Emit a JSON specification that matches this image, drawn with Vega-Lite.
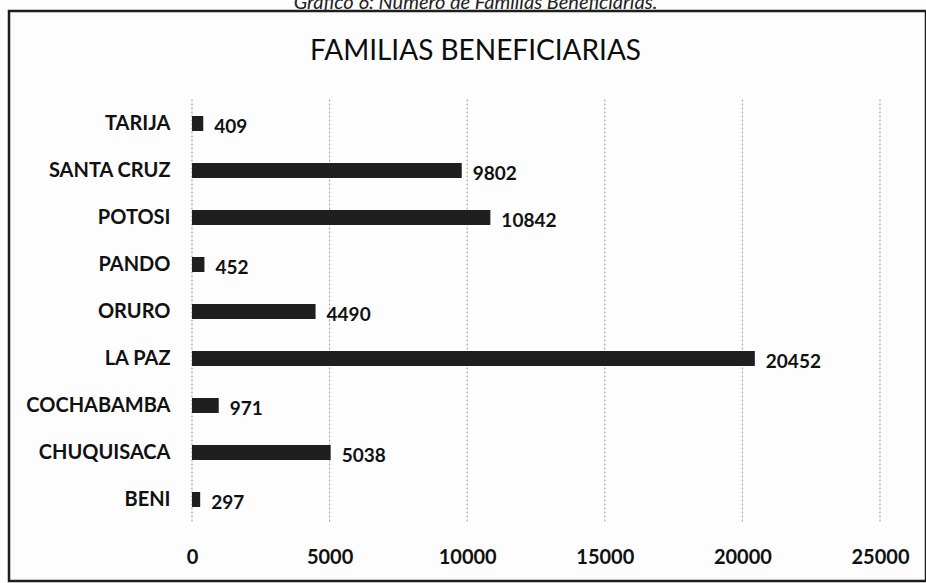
{
  "$schema": "https://vega.github.io/schema/vega-lite/v6.json",
  "width": 917,
  "height": 570,
  "autosize": "none",
  "padding": {"left": 9, "top": 11, "right": 0, "bottom": 2},
  "background": "#fdfdfd",
  "title": {
    "text": "Gráfico 6: Número de Familias Beneficiarias.",
    "subtitle": "FAMILIAS BENEFICIARIAS",
    "anchor": "middle",
    "font": "Lato",
    "fontSize": 20,
    "fontStyle": "italic",
    "fontWeight": "normal",
    "color": "#222",
    "subtitleFont": "Lato",
    "subtitleFontSize": 28,
    "subtitleColor": "#0d0d0d",
    "subtitleFontWeight": "normal",
    "subtitlePadding": 25,
    "offset": -55,
    "dx": 8
  },
  "datasets": {
    "familias": [
      {"departamento": "TARIJA", "familias": 409},
      {"departamento": "SANTA CRUZ", "familias": 9802},
      {"departamento": "POTOSI", "familias": 10842},
      {"departamento": "PANDO", "familias": 452},
      {"departamento": "ORURO", "familias": 4490},
      {"departamento": "LA PAZ", "familias": 20452},
      {"departamento": "COCHABAMBA", "familias": 971},
      {"departamento": "CHUQUISACA", "familias": 5038},
      {"departamento": "BENI", "familias": 297}
    ],
    "grid": [
      {"v": 0}, {"v": 5000}, {"v": 10000}, {"v": 15000}, {"v": 20000}, {"v": 25000}
    ]
  },
  "layer": [
    {
      "data": {"name": "grid"},
      "mark": {"type": "rule", "strokeDash": [2, 2], "color": "#9a9a9a", "strokeWidth": 1, "yOffset": -24, "y2Offset": 24},
      "encoding": {
        "x": {"field": "v", "type": "quantitative"},
        "y": {"datum": "TARIJA", "type": "nominal"},
        "y2": {"datum": "BENI"}
      }
    },
    {
      "data": {"name": "familias"},
      "mark": {"type": "bar", "color": "#1f1f1f"},
      "encoding": {
        "x": {"field": "familias", "type": "quantitative"},
        "y": {"field": "departamento", "type": "nominal"}
      }
    },
    {
      "data": {"name": "familias"},
      "mark": {"type": "text", "align": "left", "baseline": "middle", "dx": 11, "dy": 3, "font": "Lato", "fontWeight": "bold", "fontSize": 19, "color": "#111"},
      "encoding": {
        "x": {"field": "familias", "type": "quantitative"},
        "y": {"field": "departamento", "type": "nominal"},
        "text": {"field": "familias", "type": "quantitative", "format": "d"}
      }
    }
  ],
  "encoding": {
    "x": {
      "type": "quantitative",
      "scale": {"domain": [-6650, 26672], "nice": false, "zero": false},
      "axis": {
        "values": [0, 5000, 10000, 15000, 20000, 25000],
        "grid": false,
        "domain": false,
        "ticks": false,
        "title": null,
        "offset": -36,
        "labelPadding": 2,
        "labelFont": "Lato",
        "labelFontWeight": "bold",
        "labelFontSize": 20,
        "labelColor": "#111",
        "format": "d"
      }
    },
    "y": {
      "type": "nominal",
      "scale": {
        "domain": ["TARIJA", "SANTA CRUZ", "POTOSI", "PANDO", "ORURO", "LA PAZ", "COCHABAMBA", "CHUQUISACA", "BENI"],
        "range": [89, 512],
        "paddingInner": 0.68,
        "paddingOuter": 0.34,
        "round": false
      },
      "axis": {
        "title": null,
        "domain": false,
        "ticks": false,
        "grid": false,
        "offset": -183,
        "labelPadding": 22,
        "labelFont": "Lato",
        "labelFontWeight": "bold",
        "labelFontSize": 20,
        "labelColor": "#111"
      }
    }
  },
  "config": {
    "view": {"stroke": "#1e1e1e", "strokeWidth": 2.5}
  }
}
